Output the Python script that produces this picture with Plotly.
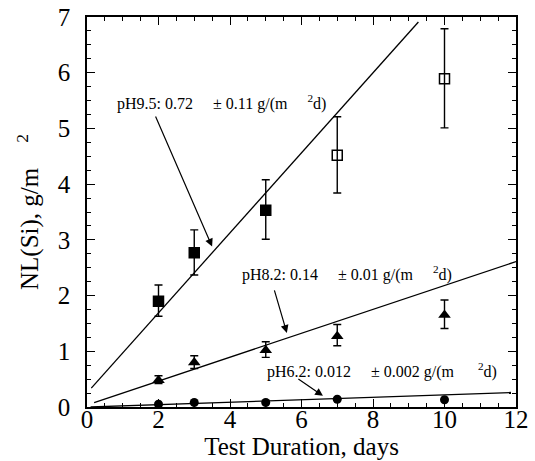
import plotly.graph_objects as go

# ---- data ----
days = [2, 3, 5, 7, 10]

ph95_y = [1.90, 2.77, 3.53, 4.52, 5.89]
ph95_hi = [2.19, 3.18, 4.08, 5.21, 6.79]
ph95_lo = [1.63, 2.37, 3.01, 3.84, 5.01]
ph95_filled = [True, True, True, False, False]

ph82_y = [0.48, 0.80, 1.02, 1.27, 1.65]
ph82_hi = [0.56, 0.92, 1.17, 1.48, 1.92]
ph82_lo = [0.42, 0.69, 0.89, 1.10, 1.41]

ph62_y = [0.05, 0.08, 0.08, 0.14, 0.13]

fit95_x = [0.12, 9.27]
fit95_y = [0.34, 6.91]
fit82_x = [0.2, 12.0]
fit82_y = [0.08, 2.61]
fit62_x = [0.1, 11.86]
fit62_y = [0.0, 0.26]

x_ticks = [0, 2, 4, 6, 8, 10, 12]
y_ticks = [0, 1, 2, 3, 4, 5, 6, 7]

NB = "\u00a0"
labels = [
    f"pH9.5: 0.72{NB*5}± 0.11 g/(m{NB*5}<sup>2</sup>d)",
    f"pH8.2: 0.14{NB*5}± 0.01 g/(m{NB*5}<sup>2</sup>d)",
    f"pH6.2: 0.012{NB*5}± 0.002 g/(m{NB*6}<sup>2</sup>d)",
]
label_pos = [(0.78, 5.46), (4.27, 2.40), (4.98, 0.66)]
arrow_tail = [(1.9, 5.24), (5.23, 2.12), (5.87, 0.52)]
arrow_head = [(3.5, 2.88), (5.59, 1.33), (6.6, 0.20)]

FONT = "Liberation Serif"

fig = go.Figure()

def errs(y, hi, lo):
    return [h - v for v, h in zip(y, hi)], [v - l for v, l in zip(y, lo)]

# pH 9.5 squares
up, dn = errs(ph95_y, ph95_hi, ph95_lo)
fig.add_trace(go.Scatter(
    x=days, y=ph95_y, mode="markers",
    marker=dict(symbol=["square" if f else "square-open" for f in ph95_filled],
                size=10, color="black", line=dict(width=1.5, color="black")),
    error_y=dict(type="data", symmetric=False, array=up, arrayminus=dn,
                 color="black", thickness=1.4, width=4),
    showlegend=False))

# pH 8.2 triangles
up, dn = errs(ph82_y, ph82_hi, ph82_lo)
fig.add_trace(go.Scatter(
    x=days, y=ph82_y, mode="markers",
    marker=dict(symbol="triangle-up", size=11, color="black"),
    error_y=dict(type="data", symmetric=False, array=up, arrayminus=dn,
                 color="black", thickness=1.4, width=4),
    showlegend=False))

# pH 6.2 circles
fig.add_trace(go.Scatter(
    x=days, y=ph62_y, mode="markers",
    marker=dict(symbol="circle", size=9, color="black"),
    showlegend=False))

for fx, fy in [(fit95_x, fit95_y), (fit82_x, fit82_y), (fit62_x, fit62_y)]:
    fig.add_trace(go.Scatter(x=fx, y=fy, mode="lines",
                             line=dict(color="black", width=1.3),
                             showlegend=False))

for txt, (lx, ly), (tx, ty), (hx, hy) in zip(labels, label_pos, arrow_tail, arrow_head):
    fig.add_annotation(x=lx, y=ly, text=txt, showarrow=False, xanchor="left",
                       yanchor="middle", font=dict(family=FONT, size=16, color="black"))
    fig.add_annotation(x=hx, y=hy, ax=tx, ay=ty, axref="x", ayref="y",
                       text="", showarrow=True, arrowhead=2, arrowsize=1.3,
                       arrowwidth=1.2, arrowcolor="black")

axis_common = dict(showline=True, linecolor="black", linewidth=1.5, mirror="ticks",
                   ticks="inside", tickcolor="black", ticklen=8, tickwidth=1.2,
                   showgrid=False, zeroline=False, automargin=False,
                   tickfont=dict(family=FONT, size=25, color="black"))

fig.update_xaxes(range=[0, 12], tickvals=x_ticks, ticktext=[str(v) for v in x_ticks],
                 minor=dict(dtick=0.5, ticks="inside", ticklen=4, tickcolor="black", tickwidth=1.2),
                 ticklabelstandoff=-11,
                 title=dict(text="Test Duration, days", standoff=2,
                            font=dict(family=FONT, size=25, color="black")),
                 **axis_common)
fig.update_yaxes(range=[0, 7], tickvals=y_ticks, ticktext=[str(v) for v in y_ticks],
                 minor=dict(dtick=0.25, ticks="inside", ticklen=4, tickcolor="black", tickwidth=1.2),
                 ticklabelstandoff=10,
                 title=dict(text=f"NL(Si), g/m{NB*4}<sup>2</sup>{NB*4}", standoff=12,
                            font=dict(family=FONT, size=25, color="black")),
                 **axis_common)

fig.update_layout(width=535, height=461, margin=dict(l=87, r=19, t=17, b=54),
                  plot_bgcolor="white", paper_bgcolor="white",
                  font=dict(family=FONT, color="black"))

fig.write_html("out.html")
